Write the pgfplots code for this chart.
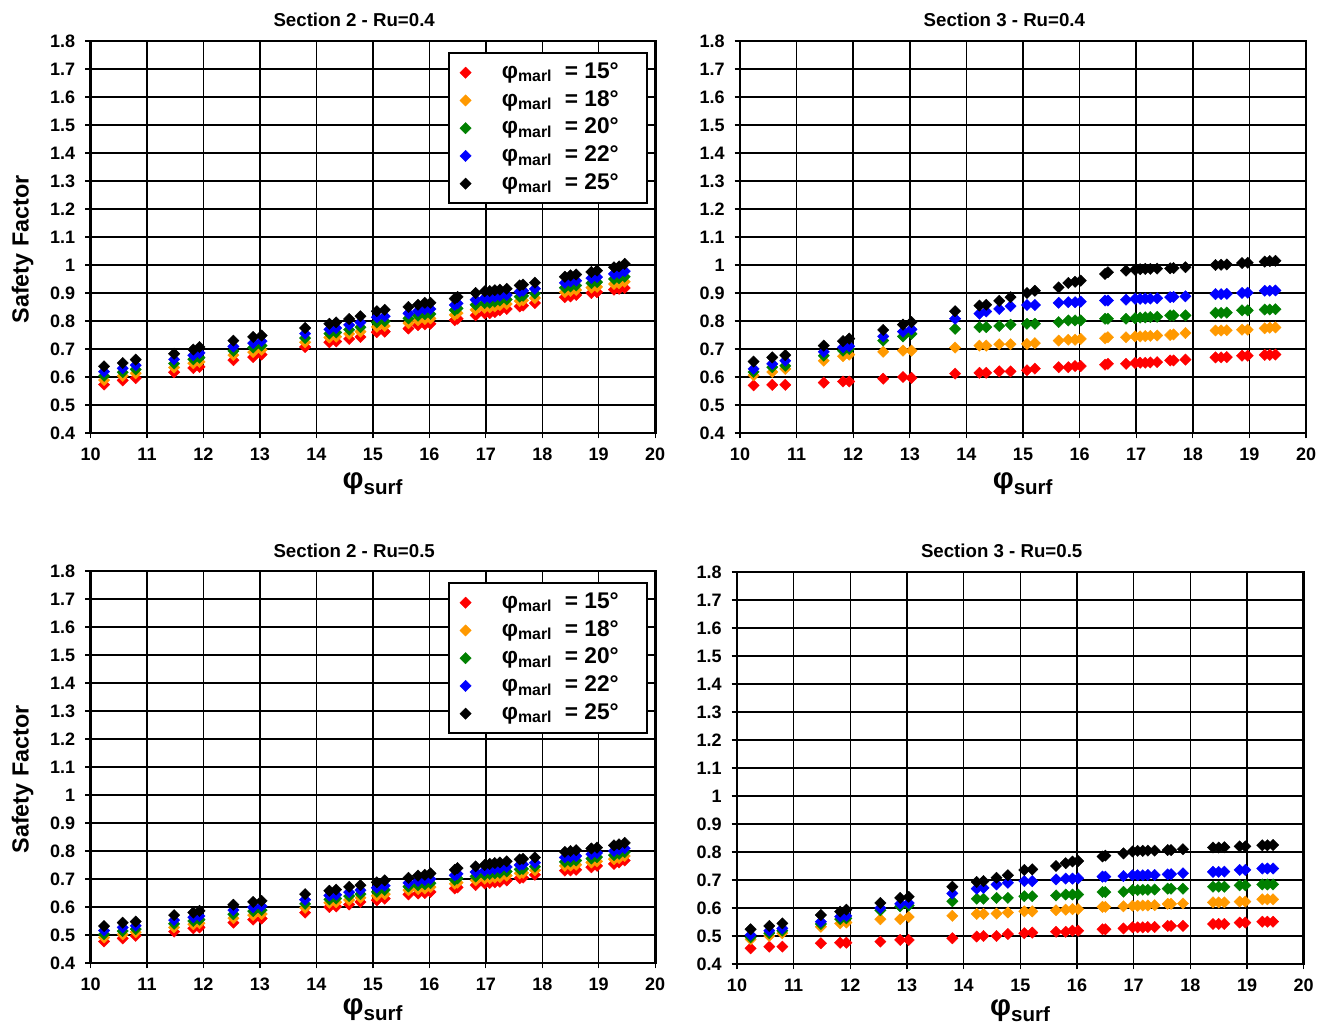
\documentclass[border=0pt]{standalone}
\usepackage{pgfplots}
\usepackage{pgfplotstable}
\pgfplotsset{compat=1.18}
\usepackage{fontspec}
\setmainfont{Liberation Sans}
\definecolor{cR}{HTML}{FF0000}
\definecolor{cO}{HTML}{FF9900}
\definecolor{cG}{HTML}{008000}
\definecolor{cB}{HTML}{0000FF}
\definecolor{cK}{HTML}{000000}

\pgfplotstableread{
x r o g b k
10.24 0.573 0.589 0.604 0.619 0.638
10.57 0.588 0.604 0.617 0.631 0.650
10.80 0.596 0.613 0.627 0.642 0.662
11.48 0.617 0.634 0.648 0.663 0.683
11.82 0.632 0.649 0.663 0.678 0.698
11.93 0.636 0.654 0.669 0.686 0.707
12.53 0.660 0.678 0.693 0.709 0.730
12.88 0.671 0.689 0.705 0.721 0.743
13.03 0.680 0.697 0.712 0.728 0.748
13.80 0.707 0.724 0.739 0.755 0.775
14.23 0.724 0.741 0.755 0.770 0.790
14.35 0.727 0.744 0.759 0.775 0.795
14.58 0.736 0.754 0.769 0.786 0.807
14.78 0.743 0.762 0.778 0.795 0.817
15.07 0.760 0.779 0.795 0.813 0.835
15.21 0.762 0.782 0.799 0.817 0.840
15.63 0.773 0.792 0.809 0.827 0.850
15.80 0.785 0.803 0.819 0.836 0.858
15.92 0.788 0.807 0.824 0.842 0.865
16.02 0.790 0.809 0.825 0.843 0.865
16.45 0.803 0.822 0.839 0.857 0.880
16.50 0.808 0.828 0.845 0.863 0.886
16.82 0.820 0.840 0.858 0.876 0.900
16.98 0.827 0.847 0.864 0.882 0.906
17.07 0.828 0.848 0.865 0.883 0.907
17.16 0.832 0.852 0.869 0.887 0.910
17.25 0.838 0.857 0.873 0.890 0.912
17.37 0.843 0.861 0.877 0.893 0.915
17.60 0.852 0.871 0.887 0.905 0.927
17.66 0.855 0.874 0.890 0.908 0.930
17.87 0.864 0.882 0.898 0.915 0.937
18.40 0.885 0.903 0.919 0.936 0.958
18.50 0.888 0.907 0.923 0.941 0.963
18.60 0.893 0.911 0.927 0.944 0.966
18.87 0.900 0.919 0.935 0.953 0.975
18.97 0.903 0.922 0.939 0.957 0.980
19.27 0.912 0.932 0.950 0.968 0.992
19.36 0.915 0.935 0.953 0.971 0.995
19.46 0.918 0.940 0.958 0.978 1.004
}\tabA

\pgfplotstableread{
x r o g b k
10.24 0.570 0.606 0.618 0.629 0.655
10.57 0.572 0.618 0.635 0.647 0.670
10.80 0.572 0.629 0.640 0.658 0.678
11.48 0.580 0.658 0.676 0.690 0.712
11.82 0.584 0.674 0.694 0.706 0.728
11.93 0.584 0.680 0.700 0.710 0.737
12.53 0.594 0.690 0.730 0.745 0.768
12.88 0.600 0.694 0.745 0.762 0.787
13.03 0.597 0.694 0.754 0.770 0.796
13.80 0.612 0.705 0.772 0.808 0.835
14.23 0.615 0.712 0.778 0.826 0.855
14.35 0.615 0.712 0.778 0.834 0.858
14.58 0.620 0.717 0.782 0.843 0.872
14.78 0.620 0.717 0.787 0.853 0.885
15.07 0.624 0.718 0.790 0.857 0.900
15.21 0.630 0.721 0.790 0.857 0.908
15.63 0.635 0.730 0.796 0.865 0.920
15.80 0.635 0.733 0.802 0.867 0.936
15.92 0.639 0.733 0.802 0.867 0.940
16.02 0.639 0.736 0.802 0.869 0.944
16.45 0.644 0.738 0.808 0.873 0.968
16.50 0.647 0.742 0.808 0.873 0.974
16.82 0.647 0.742 0.808 0.876 0.980
16.98 0.650 0.745 0.810 0.879 0.983
17.07 0.651 0.745 0.812 0.879 0.985
17.16 0.651 0.746 0.813 0.880 0.986
17.25 0.652 0.747 0.814 0.880 0.986
17.37 0.653 0.748 0.815 0.881 0.987
17.60 0.659 0.750 0.820 0.885 0.988
17.66 0.659 0.752 0.820 0.886 0.989
17.87 0.662 0.757 0.820 0.888 0.992
18.40 0.670 0.766 0.829 0.896 1.000
18.50 0.670 0.766 0.829 0.896 1.001
18.60 0.671 0.767 0.830 0.897 1.002
18.87 0.676 0.769 0.838 0.900 1.007
18.97 0.676 0.769 0.838 0.901 1.008
19.27 0.679 0.774 0.841 0.908 1.012
19.36 0.679 0.776 0.841 0.908 1.014
19.46 0.680 0.777 0.842 0.909 1.015
}\tabB

\pgfplotstableread{
x r o g b k
10.24 0.477 0.491 0.503 0.516 0.532
10.57 0.488 0.502 0.514 0.527 0.544
10.80 0.497 0.510 0.521 0.533 0.548
11.48 0.512 0.527 0.540 0.553 0.571
11.82 0.524 0.538 0.550 0.563 0.580
11.93 0.527 0.542 0.555 0.568 0.586
12.53 0.544 0.560 0.574 0.589 0.608
12.88 0.555 0.571 0.585 0.599 0.618
13.03 0.559 0.575 0.589 0.603 0.622
13.80 0.580 0.597 0.611 0.626 0.646
14.23 0.600 0.615 0.627 0.641 0.658
14.35 0.602 0.617 0.630 0.644 0.662
14.58 0.609 0.625 0.639 0.653 0.672
14.78 0.618 0.633 0.646 0.660 0.678
15.07 0.624 0.640 0.654 0.669 0.688
15.21 0.630 0.646 0.661 0.676 0.695
15.63 0.645 0.660 0.673 0.686 0.704
15.80 0.648 0.664 0.678 0.693 0.712
15.92 0.650 0.666 0.681 0.696 0.715
16.02 0.654 0.671 0.685 0.700 0.720
16.45 0.666 0.683 0.697 0.713 0.733
16.50 0.670 0.687 0.702 0.718 0.739
16.82 0.678 0.695 0.709 0.725 0.745
16.98 0.684 0.701 0.715 0.730 0.750
17.07 0.686 0.703 0.718 0.734 0.754
17.16 0.688 0.705 0.720 0.736 0.757
17.25 0.690 0.707 0.722 0.738 0.759
17.37 0.695 0.712 0.727 0.743 0.763
17.60 0.703 0.720 0.734 0.750 0.770
17.66 0.705 0.722 0.736 0.752 0.772
17.87 0.715 0.731 0.744 0.758 0.777
18.40 0.730 0.747 0.761 0.777 0.797
18.50 0.731 0.748 0.763 0.779 0.800
18.60 0.733 0.751 0.766 0.782 0.803
18.87 0.742 0.759 0.773 0.789 0.809
18.97 0.747 0.763 0.778 0.793 0.812
19.27 0.754 0.771 0.785 0.800 0.820
19.36 0.759 0.775 0.790 0.805 0.824
19.46 0.766 0.782 0.796 0.810 0.829
}\tabC

\pgfplotstableread{
x r o g b k
10.24 0.456 0.488 0.495 0.504 0.524
10.57 0.462 0.500 0.510 0.519 0.536
10.80 0.462 0.510 0.519 0.527 0.545
11.48 0.474 0.533 0.543 0.551 0.575
11.82 0.476 0.545 0.560 0.569 0.587
11.93 0.476 0.548 0.563 0.572 0.594
12.53 0.480 0.560 0.592 0.600 0.618
12.88 0.486 0.560 0.606 0.615 0.636
13.03 0.486 0.568 0.609 0.618 0.640
13.80 0.492 0.572 0.624 0.652 0.676
14.23 0.498 0.579 0.633 0.669 0.693
14.35 0.500 0.579 0.633 0.672 0.696
14.58 0.500 0.580 0.636 0.684 0.708
14.78 0.507 0.584 0.636 0.690 0.717
15.07 0.510 0.588 0.642 0.696 0.736
15.21 0.512 0.588 0.642 0.696 0.738
15.63 0.515 0.592 0.645 0.702 0.750
15.80 0.515 0.594 0.648 0.705 0.760
15.92 0.519 0.596 0.648 0.705 0.766
16.02 0.519 0.596 0.648 0.706 0.768
16.45 0.524 0.604 0.657 0.712 0.784
16.50 0.524 0.604 0.657 0.712 0.787
16.82 0.527 0.606 0.658 0.714 0.795
16.98 0.531 0.608 0.664 0.717 0.802
17.07 0.531 0.608 0.664 0.717 0.804
17.16 0.531 0.609 0.665 0.717 0.804
17.25 0.532 0.609 0.665 0.718 0.805
17.37 0.532 0.610 0.666 0.718 0.805
17.60 0.536 0.615 0.669 0.720 0.807
17.66 0.536 0.615 0.669 0.721 0.807
17.87 0.536 0.616 0.669 0.724 0.810
18.40 0.543 0.620 0.676 0.729 0.816
18.50 0.543 0.620 0.676 0.729 0.816
18.60 0.543 0.620 0.676 0.730 0.817
18.87 0.548 0.623 0.681 0.736 0.820
18.97 0.548 0.623 0.681 0.736 0.820
19.27 0.551 0.631 0.684 0.741 0.824
19.36 0.551 0.631 0.684 0.741 0.824
19.46 0.551 0.631 0.684 0.741 0.825
}\tabD

\newcommand{\LE}[1]{\hspace*{21pt}φ\textsubscript{marl}\ \ = #1°\hspace*{11pt}}

\pgfplotsset{
  panel/.style={
    scale only axis, width=423.5pt, height=294pt,
    xmin=10, xmax=20, ymin=0.4, ymax=1.8,
    xtick={10,11,12,13,14,15,16,17,18,19,20},
    ytick={0.4,0.5,0.6,0.7,0.8,0.9,1.0,1.1,1.2,1.3,1.4,1.5,1.6,1.7,1.8},
    yticklabel style={/pgf/number format/fixed,/pgf/number format/precision=1, xshift=-4pt},
    xticklabel style={yshift=-3.5pt},
    /pgf/number format/assume math mode=true,
    ticklabel style={font=\bfseries\fontsize{13.5}{16}\selectfont},
    grid=major, major grid style={black, line width=1.1pt},
    axis line style={line width=2pt},
    tick align=outside, tick pos=left, major tick length=4pt,
    tick style={black, line width=1pt},
    title style={font=\bfseries\fontsize{14}{17}\selectfont, at={(0.5,1)}, anchor=center, yshift=9.5pt, xshift=-14pt},
    xlabel={φ\textsubscript{surf}},
    xlabel style={font=\bfseries\fontsize{22}{26}\selectfont, at={(axis description cs:0.5,0)}, anchor=base, yshift=-42pt},
    ylabel style={font=\bfseries\fontsize{17.5}{20}\selectfont, at={(axis description cs:0,0.468)}, anchor=center, xshift=0pt, yshift=51pt},
    legend style={at={(0.988,0.972)}, anchor=north east, draw=black, line width=1.6pt,
      font=\bfseries\fontsize{17}{20}\selectfont, row sep=2.3pt, inner xsep=8.5pt, inner ysep=5.5pt,
      cells={anchor=west}, nodes={text height=12.5pt, text depth=4pt, inner ysep=1pt}},
  },
  pt/.style={only marks, mark=square*, mark size=3pt},
  pR/.style={pt, mark options={rotate=45, draw=cR, fill=cR, line width=0.3pt}},
  pO/.style={pt, mark options={rotate=45, draw=cO, fill=cO, line width=0.3pt}},
  pG/.style={pt, mark options={rotate=45, draw=cG, fill=cG, line width=0.3pt}},
  pB/.style={pt, mark options={rotate=45, draw=cB, fill=cB, line width=0.3pt}},
  pK/.style={pt, mark options={rotate=45, draw=cK, fill=cK, line width=0.3pt}},
}

\begin{document}
\begin{tikzpicture}
\useasboundingbox (0,0) rectangle (996pt,768pt);

% Top left
\begin{axis}[panel, at={(67.9pt,443.25pt)}, anchor=south west,
  title={Section 2 - Ru=0.4}, ylabel={Safety Factor}]
\addplot[pR] table[x=x,y=r]{\tabA};
\addplot[pO] table[x=x,y=o]{\tabA};
\addplot[pG] table[x=x,y=g]{\tabA};
\addplot[pB] table[x=x,y=b]{\tabA};
\addplot[pK] table[x=x,y=k]{\tabA};
\legend{\LE{15},\LE{18},\LE{20},\LE{22},\LE{25}}
\end{axis}

% Top right
\begin{axis}[panel, at={(555pt,443.25pt)}, anchor=south west, width=424.5pt,
  title={Section 3 - Ru=0.4}]
\addplot[pR] table[x=x,y=r]{\tabB};
\addplot[pO] table[x=x,y=o]{\tabB};
\addplot[pG] table[x=x,y=g]{\tabB};
\addplot[pB] table[x=x,y=b]{\tabB};
\addplot[pK] table[x=x,y=k]{\tabB};
\end{axis}

% Bottom left
\begin{axis}[panel, at={(67.9pt,45.75pt)}, anchor=south west,
  title={Section 2 - Ru=0.5}, ylabel={Safety Factor},
  xlabel style={yshift=3pt}]
\addplot[pR] table[x=x,y=r]{\tabC};
\addplot[pO] table[x=x,y=o]{\tabC};
\addplot[pG] table[x=x,y=g]{\tabC};
\addplot[pB] table[x=x,y=b]{\tabC};
\addplot[pK] table[x=x,y=k]{\tabC};
\legend{\LE{15},\LE{18},\LE{20},\LE{22},\LE{25}}
\end{axis}

% Bottom right
\begin{axis}[panel, at={(552.75pt,45pt)}, anchor=south west, width=425pt,
  title={Section 3 - Ru=0.5}, xlabel style={yshift=3pt}]
\addplot[pR] table[x=x,y=r]{\tabD};
\addplot[pO] table[x=x,y=o]{\tabD};
\addplot[pG] table[x=x,y=g]{\tabD};
\addplot[pB] table[x=x,y=b]{\tabD};
\addplot[pK] table[x=x,y=k]{\tabD};
\end{axis}
\end{tikzpicture}
\end{document}
